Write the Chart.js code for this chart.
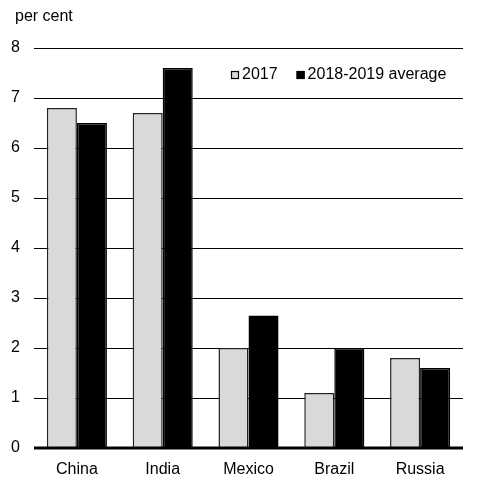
<!DOCTYPE html>
<html>
<head>
<meta charset="utf-8">
<script src="https://cdn.jsdelivr.net/npm/chart.js@4/dist/chart.umd.min.js"></script>
<style>
  html, body { margin: 0; padding: 0; background: #fff; }
  #wrap { width: 485px; height: 485px; position: relative; }
</style>
</head>
<body>
<div id="wrap"><canvas id="growthChart"></canvas></div>
<script>
// --- data ---
const countries = ['China', 'India', 'Mexico', 'Brazil', 'Russia'];
const growth2017 = [6.8, 6.7, 2.0, 1.1, 1.8];
const growthAvg1819 = [6.5, 7.6, 2.65, 2.0, 1.6];
const seriesNames = ['2017', '2018-2019 average'];
const yTicks = [0, 1, 2, 3, 4, 5, 6, 7, 8];
const unitLabel = 'per cent';

const FONT = '"Liberation Sans", Arial, sans-serif';
const TEXT = '#000';

// legend + unit label drawn on the canvas, inside the plot
const extrasPlugin = {
    id: 'extras',
    afterDraw(chart) {
        const ctx = chart.ctx;
        ctx.save();
        ctx.font = '16px ' + FONT;
        ctx.fillStyle = TEXT;
        ctx.textBaseline = 'middle';
        ctx.textAlign = 'left';
        ctx.fillText(unitLabel, 15, 17);

        // legend
        let x = 231;
        const y = 75;
        chart.data.datasets.forEach(ds => {
            ctx.fillStyle = ds.backgroundColor;
            ctx.fillRect(x, y - 4, 8, 8);
            ctx.strokeStyle = '#000';
            ctx.lineWidth = 1.2;
            ctx.strokeRect(x + 0.5, y - 3.5, 7, 7);
            ctx.fillStyle = TEXT;
            ctx.fillText(ds.label, x + 11, y);
            x += 11 + ctx.measureText(ds.label).width + 19;
        });

        // thick baseline at zero
        const yScale = chart.scales.y;
        const y0 = yScale.getPixelForValue(0);
        ctx.strokeStyle = '#000';
        ctx.lineWidth = 3;
        ctx.beginPath();
        ctx.moveTo(chart.chartArea.left, y0);
        ctx.lineTo(chart.chartArea.right, y0);
        ctx.stroke();
        ctx.restore();
    }
};

const ctx = document.getElementById('growthChart').getContext('2d');
new Chart(ctx, {
    type: 'bar',
    data: {
        labels: countries,
        datasets: [
            {
                label: seriesNames[0],
                data: growth2017,
                backgroundColor: '#d9d9d9',
                borderColor: '#222',
                borderWidth: 1.5
            },
            {
                label: seriesNames[1],
                data: growthAvg1819,
                backgroundColor: '#000',
                borderColor: '#000',
                borderWidth: 1.5
            }
        ]
    },
    options: {
        responsive: true,
        maintainAspectRatio: false,
        animation: false,
        devicePixelRatio: 1,
        layout: { padding: { top: 48, right: 22, left: 0, bottom: 0 } },
        plugins: {
            legend: { display: false },
            tooltip: { enabled: false }
        },
        datasets: {
            bar: { categoryPercentage: 0.7, barPercentage: 1.0 }
        },
        scales: {
            x: {
                grid: { display: false, drawTicks: false },
                border: { display: false },
                ticks: { color: TEXT, font: { family: FONT, size: 16 }, padding: 12 },
                afterFit(scale) { scale.height = 37; }
            },
            y: {
                min: 0,
                max: 8,
                afterBuildTicks(scale) { scale.ticks = yTicks.map(v => ({ value: v })); },
                grid: { color: '#000', lineWidth: 1, drawTicks: false },
                border: { display: false },
                ticks: { color: TEXT, font: { family: FONT, size: 16 }, padding: 14 },
                afterFit(scale) { scale.width = 34; }
            }
        }
    },
    plugins: [extrasPlugin]
});
</script>
</body>
</html>
